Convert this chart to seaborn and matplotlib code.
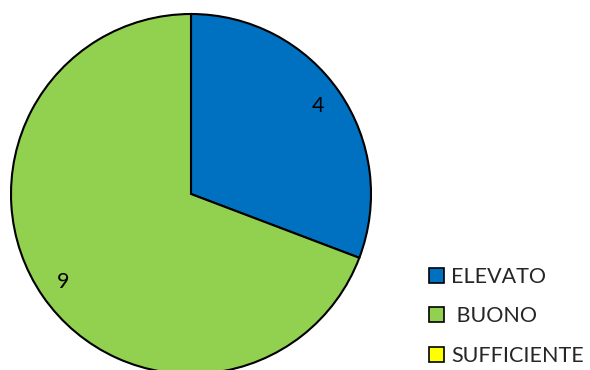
import matplotlib
matplotlib.use("Agg")
import matplotlib.pyplot as plt
import seaborn as sns
from matplotlib.patches import Patch

categories = ["ELEVATO", " BUONO", "SUFFICIENTE"]
values = [4, 9, 0]
colors = ["#0070C0", "#92D050", "#FFFF00"]

sns.set_theme(style="white")
plt.rcParams['font.family'] = ['Lato', 'DejaVu Sans']

fig = plt.figure(figsize=(5.9, 3.7), dpi=100)
ax = fig.add_axes([11/590, (370-374)/370, 360/590, 360/370])

plot_vals = [v for v in values if v > 0]
plot_cols = [c for v, c in zip(values, colors) if v > 0]
wedges, texts = ax.pie(plot_vals, colors=plot_cols, startangle=90, counterclock=False,
                       labels=[str(v) for v in plot_vals], labeldistance=0.86,
                       wedgeprops=dict(edgecolor="black", linewidth=1.5),
                       textprops=dict(fontsize=15.5, color="black", ha="center", va="center"))
ax.set_xlim(-1, 1)
ax.set_ylim(-1, 1)
ax.set_aspect("equal")
ax.axis("off")

handles = [Patch(facecolor=c, edgecolor="black", linewidth=1.2) for c in colors]
fig.legend(handles, categories, loc="upper left", bbox_to_anchor=(420/590, 1 - 258/370),
           frameon=False, fontsize=15.5, handlelength=0.7, handleheight=0.7,
           handletextpad=0.35, labelspacing=0.92, borderaxespad=0)

fig.savefig("out.png", dpi=100)
